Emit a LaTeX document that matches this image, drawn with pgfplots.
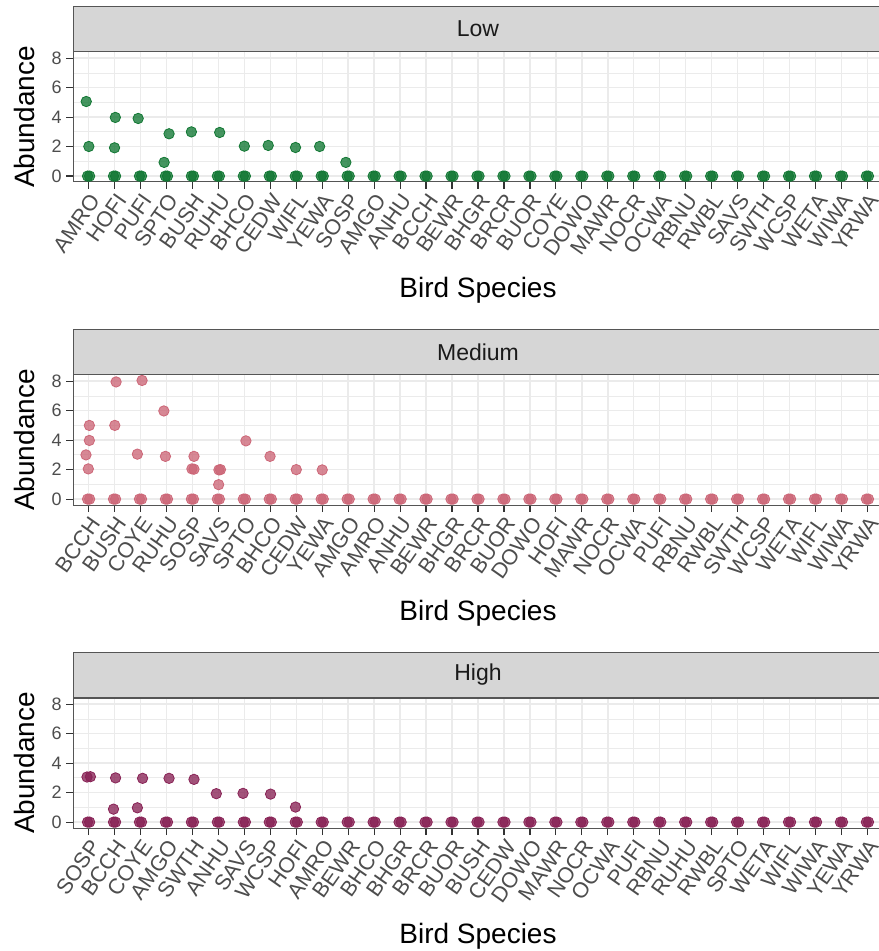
\documentclass[border=0pt]{standalone}
\usepackage{pgfplots}
\usepackage{pgfplotstable}
\pgfplotsset{compat=1.18}
\usepackage{fontspec}
\setmainfont{Liberation Sans}
\definecolor{lowc}{HTML}{117733}
\definecolor{medc}{HTML}{CC6677}
\definecolor{highc}{HTML}{882255}
\definecolor{gridc}{HTML}{EBEBEB}
\definecolor{bordc}{HTML}{555555}
\definecolor{tickc}{HTML}{333333}
\definecolor{tickl}{HTML}{4D4D4D}
\definecolor{stripc}{HTML}{D6D6D6}
\definecolor{stript}{HTML}{1A1A1A}

\pgfplotstableread{
x y
0.96 0
1.04 0
1.96 0
2.04 0
2.96 0
3.04 0
3.96 0
4.04 0
4.96 0
5.04 0
5.96 0
6.04 0
6.96 0
7.04 0
7.96 0
8.04 0
8.96 0
9.04 0
9.96 0
10.04 0
10.96 0
11.04 0
11.96 0
12.04 0
12.96 0
13.04 0
13.96 0
14.04 0
14.96 0
15.04 0
15.96 0
16.04 0
16.96 0
17.04 0
17.96 0
18.04 0
18.96 0
19.04 0
19.96 0
20.04 0
20.96 0
21.04 0
21.96 0
22.04 0
22.96 0
23.04 0
23.96 0
24.04 0
24.96 0
25.04 0
25.96 0
26.04 0
26.96 0
27.04 0
27.96 0
28.04 0
28.96 0
29.04 0
29.96 0
30.04 0
30.96 0
31.04 0
}\zeros

\pgfplotsset{
  panel/.style={
    scale only axis, width=405pt, height=65pt,
    xmin=0.4, xmax=31.6, ymin=-0.4, ymax=8.42,
    xtick={1,...,31}, ytick={0,2,4,6,8}, minor ytick={1,3,5,7},
    grid=both,
    major grid style={color=gridc, line width=0.7pt},
    minor grid style={color=gridc, line width=0.4pt},
    axis line style={color=bordc, line width=0.5pt},
    tick style={color=tickc, line width=0.6pt},
    major tick length=3.5pt, minor tick length=0pt, tick align=outside,
    xtick pos=left, ytick pos=left,
    /pgf/number format/assume math mode=true,
    xticklabel style={rotate=55, anchor=north east, font=\fontsize{10.8}{12}\selectfont, text=tickl, inner sep=1pt},
    yticklabel style={font=\fontsize{9}{10}\selectfont, text=tickl, inner sep=2pt},
    xlabel={Bird Species}, ylabel={Abundance},
    xlabel style={at={(axis description cs:0.5,-0.83)}, anchor=center, font=\fontsize{14}{16}\selectfont},
    ylabel style={at={(axis description cs:-0.0593,0.5)}, anchor=center, font=\fontsize{14}{16}\selectfont},
    every axis title shift=0pt,
    title style={at={(rel axis cs:0.5,1)}, anchor=south, fill=stripc, draw=bordc, line width=0.5pt,
      minimum width=405pt, minimum height=22.5pt, inner sep=0pt, text=stript,
      font=\fontsize{11.5}{13}\selectfont},
  },
  pts/.style={only marks, mark=*, mark size=2.6pt, color=#1,
    mark options={draw=none, fill=#1, fill opacity=0.78}},
}

\begin{document}
\begin{tikzpicture}
\useasboundingbox (-36.5pt,91pt) rectangle (402.5pt,-384.5pt);

% Low
\begin{axis}[panel, at={(0,0)}, title={Low},
  xticklabels={AMRO,HOFI,PUFI,SPTO,BUSH,RUHU,BHCO,CEDW,WIFL,YEWA,SOSP,AMGO,ANHU,BCCH,BEWR,BHGR,BRCR,BUOR,COYE,DOWO,MAWR,NOCR,OCWA,RBNU,RWBL,SAVS,SWTH,WCSP,WETA,WIWA,YRWA}]
\addplot[pts=lowc] table[x=x,y=y] {\zeros};
\addplot[pts=lowc] coordinates {(0.91,5.06)(1.01,2.01)(2.03,3.98)(2.0,1.92)(2.91,3.91)(4.1,2.87)(3.91,0.93)(4.96,3.0)(6.05,2.96)(7.0,2.03)(7.92,2.08)(8.97,1.94)(9.9,2.01)(10.91,0.93)};
\end{axis}

% Medium
\begin{axis}[panel, at={(0,-161.5pt)}, title={Medium},
  xticklabels={BCCH,BUSH,COYE,RUHU,SOSP,SAVS,SPTO,BHCO,CEDW,YEWA,AMGO,AMRO,ANHU,BEWR,BHGR,BRCR,BUOR,DOWO,HOFI,MAWR,NOCR,OCWA,PUFI,RBNU,RWBL,SWTH,WCSP,WETA,WIFL,WIWA,YRWA}]
\addplot[pts=medc] table[x=x,y=y] {\zeros};
\addplot[pts=medc] coordinates {(1.03,5.0)(1.03,3.98)(0.9,3.0)(0.99,2.05)(2.06,7.95)(2.01,5.0)(3.06,8.05)(2.88,3.05)(3.9,5.98)(3.96,2.9)(5.06,2.9)(4.98,2.05)(5.06,2.03)(6.02,1.98)(6.08,2.0)(6.01,0.98)(7.06,3.95)(7.99,2.9)(9.0,2.0)(10.0,1.98)};
\end{axis}

% High
\begin{axis}[panel, at={(0,-323pt)}, title={High},
  xticklabels={SOSP,BCCH,COYE,AMGO,SWTH,ANHU,SAVS,WCSP,HOFI,AMRO,BEWR,BHCO,BHGR,BRCR,BUOR,BUSH,CEDW,DOWO,MAWR,NOCR,OCWA,PUFI,RBNU,RUHU,RWBL,SPTO,WETA,WIFL,WIWA,YEWA,YRWA}]
\addplot[pts=highc] table[x=x,y=y] {\zeros};
\addplot[pts=highc] coordinates {(0.94,3.06)(1.07,3.08)(2.04,3.0)(1.96,0.88)(3.08,2.97)(2.88,0.97)(4.1,2.97)(5.06,2.9)(5.92,1.93)(6.95,1.95)(8.01,1.9)(8.97,1.02)};
\end{axis}
\end{tikzpicture}
\end{document}
